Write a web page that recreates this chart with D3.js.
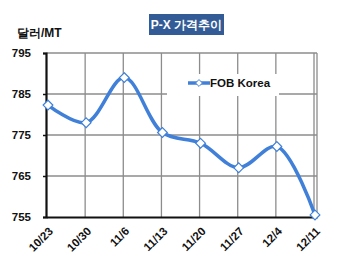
<!DOCTYPE html>
<html>
<head>
<meta charset="utf-8">
<script src="https://cdn.jsdelivr.net/npm/d3@7"></script>
<style>
  body { margin: 0; background: #fff; }
  text { font-family: 'Liberation Sans', Arial, sans-serif; }
</style>
</head>
<body>
<svg id="chart" width="350" height="268"></svg>
<script>
const dates = ['10/23', '10/30', '11/6', '11/13', '11/20', '11/27', '12/4', '12/11'];
const fobKorea = [782.3, 778, 789, 775.6, 773, 767, 772.2, 755.5];
const yTicks = [755, 765, 775, 785, 795];
const seriesName = 'FOB Korea';
const titleText = 'P-X 가격추이';
const unitText = '달러/MT';

const drawChart = function() {
  var svg = d3.select('#chart');

  var left = 46, right = 317, top = 53, bottom = 217;
  var blue = '#4080d8';

  var xScale = d3.scalePoint(dates, [ 48, 315 ]),
      yScale = d3.scaleLinear([ 755, 795 ], [ bottom, top ]);

  // gridlines
  var grid = svg.append('g').attr('stroke', '#8c8c8c').attr('stroke-width', 1.3);
  grid.selectAll('.hg')
      .data(yTicks.slice(1))
      .enter()
      .append('line')
      .attr('x1', left).attr('x2', right)
      .attr('y1', d => yScale(d)).attr('y2', d => yScale(d));
  grid.selectAll('.vg')
      .data(dates.slice(1))
      .enter()
      .append('line')
      .attr('x1', d => xScale(d) - 1).attr('x2', d => xScale(d) - 1)
      .attr('y1', top).attr('y2', bottom);
  grid.append('line')
      .attr('x1', right).attr('x2', right)
      .attr('y1', top).attr('y2', bottom);

  // legend background hides grid behind it
  svg.append('rect')
      .attr('x', 167).attr('y', 74)
      .attr('width', 112).attr('height', 22)
      .attr('fill', '#fff');

  // axes
  svg.append('g')
      .attr('transform', `translate(${left},0)`)
      .call(d3.axisLeft(yScale).tickValues(yTicks).tickSize(3).tickFormat(''))
      .call(g => g.select('.domain').attr('stroke', '#111').attr('stroke-width', 2.2))
      .call(g => g.selectAll('.tick line').attr('stroke', '#111').attr('stroke-width', 1.5));

  svg.append('g')
      .attr('transform', `translate(0,${bottom})`)
      .call(d3.axisBottom(d3.scaleLinear([0, 1], [left, right])).ticks(0).tickSize(0))
      .call(g => g.select('.domain').attr('stroke', '#111').attr('stroke-width', 2.2));

  svg.append('g')
      .selectAll('text')
      .data(yTicks)
      .enter()
      .append('text')
      .attr('x', 31)
      .attr('y', d => yScale(d))
      .attr('dy', '0.36em')
      .attr('text-anchor', 'end')
      .attr('font-size', 11.5)
      .attr('font-weight', 'bold')
      .attr('fill', '#111')
      .text(d => d);

  svg.append('g')
      .selectAll('text')
      .data(dates)
      .enter()
      .append('text')
      .attr('transform', d => `translate(${xScale(d) + 3},${bottom + 12}) rotate(-45)`)
      .attr('text-anchor', 'end')
      .attr('dy', '0.35em')
      .attr('font-size', 11.5)
      .attr('font-weight', 'bold')
      .attr('fill', '#111')
      .text(d => d);

  // series
  var line = d3.line()
      .x((d, i) => xScale(dates[i]))
      .y(d => yScale(d))
      .curve(d3.curveCatmullRom.alpha(0.5));

  svg.append('path')
      .datum(fobKorea)
      .attr('d', line)
      .attr('fill', 'none')
      .attr('stroke', blue)
      .attr('stroke-width', 3.5);

  var diamond = d3.symbol().type(d3.symbolDiamond2).size(60);
  svg.append('g')
      .selectAll('path')
      .data(fobKorea)
      .enter()
      .append('path')
      .attr('d', diamond)
      .attr('transform', (d, i) => `translate(${xScale(dates[i])},${yScale(d)})`)
      .attr('fill', '#fff')
      .attr('stroke', blue)
      .attr('stroke-width', 1.2);

  // legend
  var lg = svg.append('g').attr('transform', 'translate(188,83)');
  lg.append('line')
      .attr('x1', 0).attr('x2', 22)
      .attr('stroke', blue).attr('stroke-width', 3.5);
  lg.append('path')
      .attr('d', d3.symbol().type(d3.symbolDiamond2).size(30))
      .attr('transform', 'translate(11,0)')
      .attr('fill', '#fff').attr('stroke', blue).attr('stroke-width', 1);
  lg.append('text')
      .attr('x', 22).attr('dy', '0.36em')
      .attr('font-size', 11.5).attr('font-weight', 'bold').attr('fill', '#111')
      .text(seriesName);

  // title and unit
  svg.append('rect')
      .attr('x', 149).attr('y', 14)
      .attr('width', 75).attr('height', 21)
      .attr('fill', '#335c96');
  svg.append('text')
      .attr('x', 186.5).attr('y', 25)
      .attr('dy', '0.36em')
      .attr('text-anchor', 'middle')
      .attr('font-family', "'Noto Sans CJK KR', sans-serif")
      .attr('font-size', 12).attr('font-weight', 'bold').attr('fill', '#fff')
      .text(titleText);

  svg.append('text')
      .attr('x', 17).attr('y', 37)
      .attr('font-family', "'Noto Sans CJK KR', sans-serif")
      .attr('font-size', 12).attr('font-weight', 'bold').attr('fill', '#111')
      .text(unitText);
};

drawChart();
</script>
</body>
</html>
